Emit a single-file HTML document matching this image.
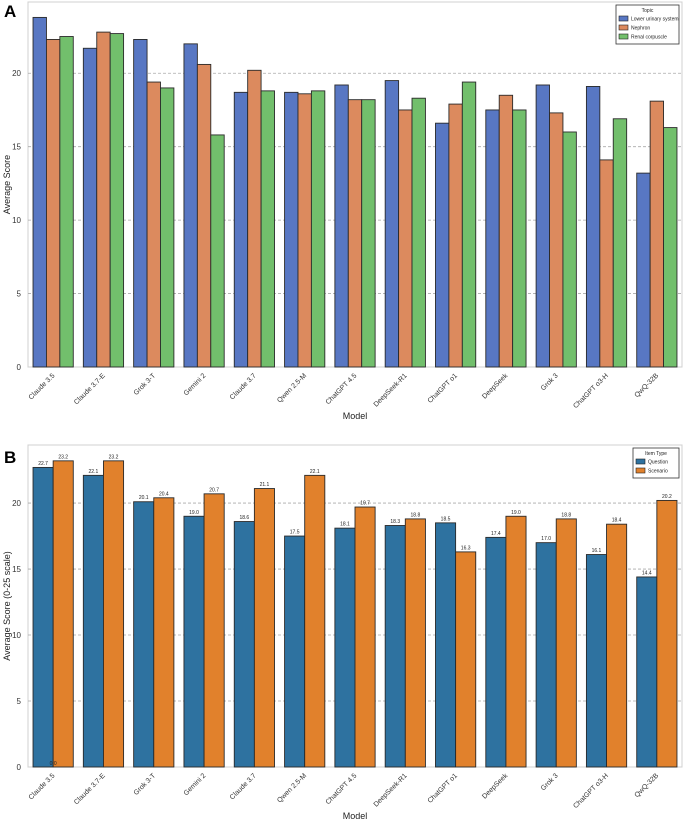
<!DOCTYPE html>
<html><head><meta charset="utf-8"><style>
body{margin:0;background:#fff;}
svg{display:block;font-family:"Liberation Sans",sans-serif;}
</style></head><body>
<svg id="s" width="685" height="822"></svg>
<script>
const models=["Claude 3.5","Claude 3.7-E","Grok 3-T","Gemini 2","Claude 3.7","Qwen 2.5-M","ChatGPT 4.5","DeepSeek-R1","ChatGPT o1","DeepSeek","Grok 3","ChatGPT o3-H","QwQ-32B"];
const lowerUrinary=[23.8,21.7,22.3,22.0,18.7,18.7,19.2,19.5,16.6,17.5,19.2,19.1,13.2];
const nephron=[22.3,22.8,19.4,20.6,20.2,18.6,18.2,17.5,17.9,18.5,17.3,14.1,18.1];
const renalCorpuscle=[22.5,22.7,19.0,15.8,18.8,18.8,18.2,18.3,19.4,17.5,16.0,16.9,16.3];
const question=[22.7,22.1,20.1,19.0,18.6,17.5,18.1,18.3,18.5,17.4,17.0,16.1,14.4];
const scenario=[23.2,23.2,20.4,20.7,21.1,22.1,19.7,18.8,16.3,19.0,18.8,18.4,20.2];
const yTicks=[0,5,10,15,20];
const topicNames=["Lower urinary system","Nephron","Renal corpuscle"];
const typeNames=["Question","Scenario"];

const NS="http://www.w3.org/2000/svg";
const svg=document.getElementById('s');
function mk(tag,attrs,parent,txt){const e=document.createElementNS(NS,tag);for(const k in attrs)e.setAttribute(k,attrs[k]);if(txt!==undefined)e.textContent=txt;(parent||svg).appendChild(e);return e;}

function panel(cfg){
  const g=mk('g',{});
  
  
  const L=cfg.left,R=682,T=cfg.top,B=cfg.bottom;
  const y=v=>B-(v/cfg.ymax)*(B-T);
  const gw=(R-L)/models.length;
  const x=i=>L+gw*(i+0.5);
  mk('rect',{x:L,y:T,width:R-L,height:B-T,fill:'#fff',stroke:'#d0d0d0','stroke-width':1},g);
  yTicks.forEach(t=>{
    if(t>0){const ln=mk('line',{x1:L,x2:R,y1:y(t),y2:y(t),stroke:'#aaa','stroke-dasharray':'3,2','stroke-width':0.8},g);
      }
    const tx=mk('text',{x:L-7,y:y(t)+3,'font-size':8,fill:'#333','text-anchor':'end'},g,String(t));
    
  });
  const n=cfg.series.length,bw=gw*0.8/n;
  models.forEach((m,i)=>{
    cfg.series.forEach((s,j)=>{
      const bx=x(i)-gw*0.4+j*bw,v=s[i];
      const r=mk('rect',{x:bx,y:y(v),width:bw,height:B-y(v),fill:cfg.colors[j],stroke:'#2a2a2a','stroke-width':0.9},g);
      
      if(cfg.labels){const t=mk('text',{x:bx+bw/2,y:y(v)-2.5,'font-size':5,fill:'#222','text-anchor':'middle'},g,v.toFixed(1));
        }
    });
    const lx=x(i)+2,ly=B+9;
    const t=mk('text',{x:lx,y:ly,'font-size':7,fill:'#333','text-anchor':'end',transform:`rotate(-45 ${lx} ${ly})`},g,m);
    
  });
  if(cfg.labels){const t=mk('text',{x:x(0),y:B-2,'font-size':5,fill:'#222','text-anchor':'middle'},g,'0.0');
    }
  let t=mk('text',{x:(L+R)/2,y:cfg.xTitleY,'font-size':9,fill:'#222','text-anchor':'middle'},g,'Model');
  
  const cy=(T+B)/2;
  t=mk('text',{x:10,y:cy,'font-size':9,fill:'#222','text-anchor':'middle',transform:`rotate(-90 10 ${cy})`},g,cfg.ytitle);
  
  t=mk('text',{x:4,y:cfg.letterY,'font-size':17,'font-weight':'bold',fill:'#000'},g,cfg.letter);
  
  const lg=mk('g',{},g);
  
  const lw=cfg.legW,lx0=R-3-lw,ly0=T+3;
  mk('rect',{x:lx0,y:ly0,width:lw,height:12+cfg.names.length*9,fill:'#fff',stroke:'#333','stroke-width':0.8},lg);
  mk('text',{x:lx0+lw/2,y:ly0+7,'font-size':5,'text-anchor':'middle',fill:'#222'},lg,cfg.legTitle);
  cfg.names.forEach((nm,j)=>{
    const e=mk('g',{},lg);
    
    mk('rect',{x:lx0+3,y:ly0+11+j*9,width:9,height:5,fill:cfg.colors[j],stroke:'#222','stroke-width':0.6},e);
    mk('text',{x:lx0+15,y:ly0+15.5+j*9,'font-size':5,fill:'#222'},e,nm);
  });
}
panel({name:'panel-a-topic-chart',left:28,top:2,bottom:367,ymax:24.85,series:[lowerUrinary,nephron,renalCorpuscle],
  colors:['#5877c3','#dc8a5e','#72bf6c'],labels:false,ytitle:'Average Score',letter:'A',letterY:17,xTitleY:419,
  names:topicNames,legTitle:'Topic',legW:63});
panel({name:'panel-b-item-type-chart',left:28,top:445,bottom:767,ymax:24.4,series:[question,scenario],
  colors:['#2e72a0','#e1812c'],labels:true,ytitle:'Average Score (0-25 scale)',letter:'B',letterY:463,xTitleY:819,
  names:typeNames,legTitle:'Item Type',legW:46});
</script>
</body></html>
